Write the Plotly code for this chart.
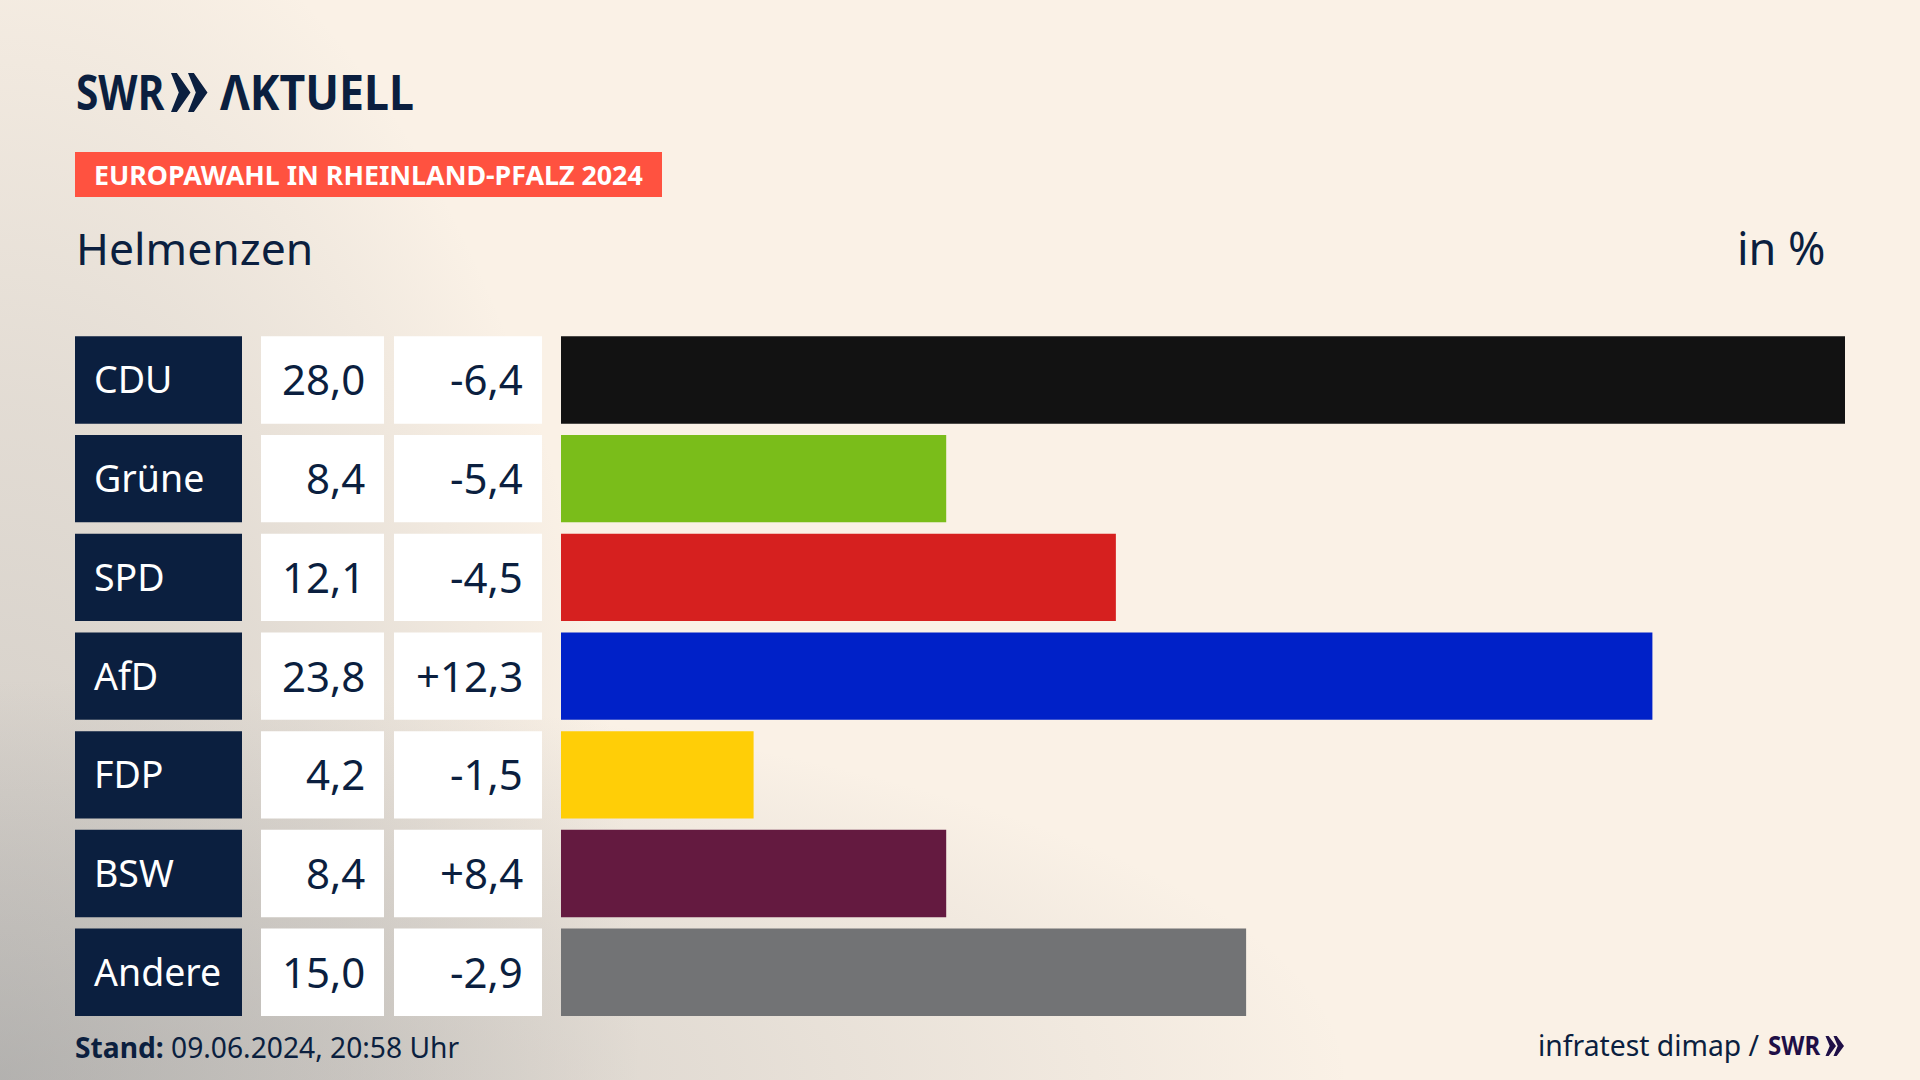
import base64
import plotly.graph_objects as go

parties = ["CDU", "Grüne", "SPD", "AfD", "FDP", "BSW", "Andere"]
shares = [28.0, 8.4, 12.1, 23.8, 4.2, 8.4, 15.0]
bar_lengths = [28.0, 8.4, 12.1, 23.8, 4.2, 8.4, 14.94]
changes = [-6.4, -5.4, -4.5, 12.3, -1.5, 8.4, -2.9]
colors = ["#121212", "#7ABD1A", "#D6201F", "#0021C8", "#FFCE07", "#641A40", "#727375"]

W, H = 1920, 1080
NAVY = "#0B1F3F"
FONT = "Noto Sans"

def px(x):
    return x / W

def py(y):
    return 1 - y / H

def fmt(v):
    return f"{v:.1f}".replace(".", ",")

def fmt_change(v):
    return ("+" if v > 0 else "") + fmt(v)

GREY = "#8F9193"
svg = f'''<svg xmlns="http://www.w3.org/2000/svg" width="{W}" height="{H}">
<defs>
<radialGradient id="a" gradientUnits="userSpaceOnUse" cx="0" cy="0" r="1"
gradientTransform="translate(0 1080) scale(640 1230)">
<stop offset="0" stop-color="{GREY}" stop-opacity="0.42"/>
<stop offset="0.55" stop-color="{GREY}" stop-opacity="0.22"/>
<stop offset="1" stop-color="{GREY}" stop-opacity="0"/>
</radialGradient>
<radialGradient id="b" gradientUnits="userSpaceOnUse" cx="0" cy="0" r="1"
gradientTransform="translate(0 1080) scale(1350 400)">
<stop offset="0" stop-color="{GREY}" stop-opacity="0.42"/>
<stop offset="0.55" stop-color="{GREY}" stop-opacity="0.2"/>
<stop offset="1" stop-color="{GREY}" stop-opacity="0"/>
</radialGradient>
</defs>
<rect width="{W}" height="{H}" fill="#FAF1E6"/>
<rect width="{W}" height="{H}" fill="url(#a)"/>
<rect width="{W}" height="{H}" fill="url(#b)"/>
</svg>'''
bg = "data:image/svg+xml;base64," + base64.b64encode(svg.encode()).decode()

fig = go.Figure(go.Bar(
    x=bar_lengths, y=parties, orientation="h",
    marker=dict(color=colors, line_width=0),
    width=0.885, hoverinfo="skip",
))

shapes, annotations = [], []

def text(x, y, s, size, anchor="left", color=NAVY, yref="paper"):
    font = dict(family=FONT, size=size, color=color)
    annotations.append(dict(
        x=px(x), y=y if yref != "paper" else py(y), xref="paper", yref=yref, text=s,
        showarrow=False, xanchor=anchor, yanchor="middle", font=font,
    ))

def box(x0, x1, i, color):
    shapes.append(dict(type="rect", xref="paper", yref="y", x0=px(x0), x1=px(x1),
                       y0=i - 0.4425, y1=i + 0.4425, fillcolor=color, line_width=0, layer="below"))

for i, (p, s, c) in enumerate(zip(parties, shares, changes)):
    box(75, 242, i, NAVY)
    box(261, 384, i, "#FFFFFF")
    box(394, 542, i, "#FFFFFF")
    text(92, i - 0.01, p, 37.5, color="#FFFFFF", yref="y")
    text(367, i - 0.01, fmt(s), 42, "right", yref="y")
    text(525, i - 0.01, fmt_change(c), 42, "right", yref="y")

def chevrons(x0, y0, cw, offset, h, color):
    for k in range(2):
        l = x0 + k * offset
        pts = [(l, y0), (l + 0.3 * cw, y0), (l + cw, y0 + h / 2), (l + 0.3 * cw, y0 + h),
               (l, y0 + h), (l + 0.4 * cw, y0 + h / 2)]
        path = "M " + " L ".join(f"{px(a):.5f},{py(b):.5f}" for a, b in pts) + " Z"
        shapes.append(dict(type="path", xref="paper", yref="paper", path=path, fillcolor=color, line_width=0))

# logo and headings
text(74, 91, "<b>SWR</b>", 49)
chevrons(171, 73, 19.5, 17, 39, NAVY)
text(218, 91, "<b>ΛKTUELL</b>", 49)
shapes.append(dict(type="rect", xref="paper", yref="paper", x0=px(75), x1=px(662), y0=py(152), y1=py(197),
                   fillcolor="#FF5240", line_width=0))
text(92, 175, "<b>EUROPAWAHL IN RHEINLAND-PFALZ 2024</b>", 26.8, color="#FFFFFF")
text(74, 247, "Helmenzen", 44.5)
text(1828, 247, "in %", 45, "right")

# footer
text(73, 1047, "<b>Stand:</b> 09.06.2024, 20:58 Uhr", 28.2)
text(1762, 1045, "infratest dimap /", 28.3, "right")
text(1766, 1045, "<b>SWR</b>", 26, color="#1F0F47")
chevrons(1825.5, 1036, 10.5, 8, 20, "#1F0F47")

fig.update_layout(
    width=W, height=H, margin=dict(l=0, r=0, t=0, b=0), autosize=False,
    paper_bgcolor="#FAF1E6", plot_bgcolor="rgba(0,0,0,0)", showlegend=False,
    xaxis=dict(domain=[px(561), px(1845)], range=[0, 28], visible=False, fixedrange=True),
    yaxis=dict(domain=[py(1021.6), py(330.6)], categoryorder="array", categoryarray=parties,
               autorange="reversed", visible=False, fixedrange=True),
    shapes=shapes, annotations=annotations,
    images=[dict(source=bg, xref="paper", yref="paper", x=0, y=1, sizex=1, sizey=1,
                 xanchor="left", yanchor="top", sizing="stretch", layer="below")],
)
post = """
document.body.style.margin='0';document.body.style.overflow='hidden';
document.querySelectorAll('.annotation-text').forEach(function(t){
  var s=t.textContent, b=t.getBBox(), target=0;
  if(s==='SWR'){target=b.height>50?89:53;}
  if(s==='ΛKTUELL'){target=194;}
  if(target){t.setAttribute('transform','translate('+b.x+',0) scale('+(target/b.width)+',1) translate('+(-b.x)+',0)');}
});
"""
fig.write_html("out.html", config=dict(displayModeBar=False), post_script=post)
